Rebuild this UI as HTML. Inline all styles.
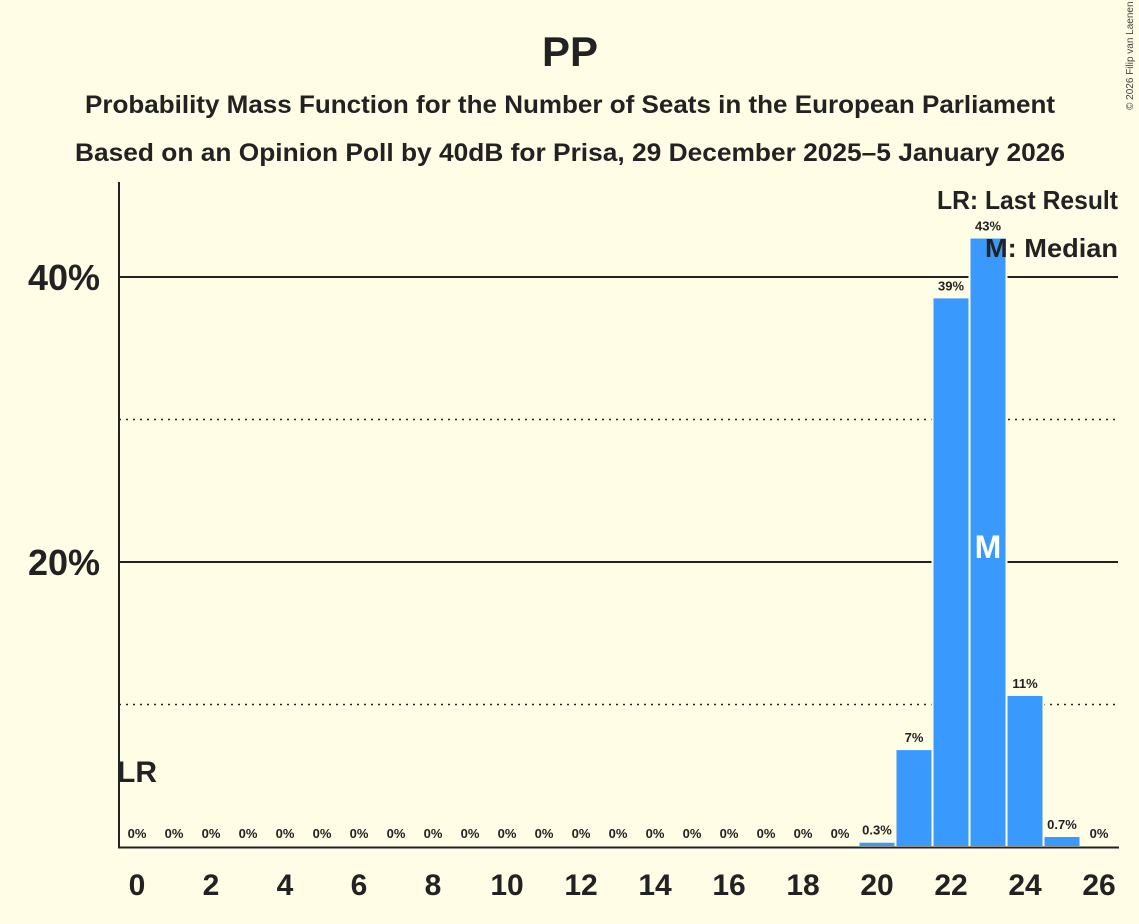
<!DOCTYPE html>
<html><head><meta charset="utf-8"><style>
body{margin:0;background:#fffde6;}
svg{display:block;font-family:"Liberation Sans",sans-serif;}
</style></head><body>
<svg id="c" width="1139" height="924" viewBox="0 0 1139 924">
<rect width="1139" height="924" fill="#fffde6"/>
<text x="570" y="66" text-anchor="middle" font-size="42" font-weight="bold" fill="#222">PP</text>
<text x="570" y="113" text-anchor="middle" font-size="25" font-weight="bold" fill="#222" textLength="970" lengthAdjust="spacingAndGlyphs">Probability Mass Function for the Number of Seats in the European Parliament</text>
<text x="570" y="161" text-anchor="middle" font-size="25" font-weight="bold" fill="#222" textLength="990" lengthAdjust="spacingAndGlyphs">Based on an Opinion Poll by 40dB for Prisa, 29 December 2025–5 January 2026</text>
<text x="1133" y="110" font-size="10" fill="#444" transform="rotate(-90 1133 110)">© 2026 Filip van Laenen</text>
<g id="grid"></g>
<g id="bars"></g>
<g id="labels"></g>
<line x1="119" y1="182" x2="119" y2="848" stroke="#222" stroke-width="2"/>
<line x1="118" y1="847.5" x2="1119" y2="847.5" stroke="#222" stroke-width="2"/>
<text x="1118" y="209" text-anchor="end" font-size="26" font-weight="bold" fill="#222" textLength="181" lengthAdjust="spacingAndGlyphs">LR: Last Result</text>
<text x="1118" y="257" text-anchor="end" font-size="26" font-weight="bold" fill="#222" textLength="133" lengthAdjust="spacingAndGlyphs">M: Median</text>
<text x="117" y="782" font-size="30" font-weight="bold" fill="#222">LR</text>
</svg>
<script>
const seats=[0,1,2,3,4,5,6,7,8,9,10,11,12,13,14,15,16,17,18,19,20,21,22,23,24,25,26];
const probs=[0,0,0,0,0,0,0,0,0,0,0,0,0,0,0,0,0,0,0,0,0.3,6.8,38.5,42.7,10.6,0.7,0];
const valueLabels=["0%","0%","0%","0%","0%","0%","0%","0%","0%","0%","0%","0%","0%","0%","0%","0%","0%","0%","0%","0%","0.3%","7%","39%","43%","11%","0.7%","0%"];
const yTicks=[10,20,30,40];
const yTickLabels=["","20%","","40%"];
const xTickSeats=[0,2,4,6,8,10,12,14,16,18,20,22,24,26];
const medianSeat=23;
const NS="http://www.w3.org/2000/svg";
const xs=s=>137+s*37;
const ys=v=>847-v*14.25;
function mk(t,a,p){const e=document.createElementNS(NS,t);for(const k in a)e.setAttribute(k,a[k]);p.appendChild(e);return e;}
const g=document.getElementById('grid'),b=document.getElementById('bars'),l=document.getElementById('labels');
yTicks.forEach((v,i)=>{
  const major=v%20===0;
  const ln=mk('line',{x1:119,x2:1118,y1:ys(v),y2:ys(v),stroke:'#222','stroke-width':major?2:1.5,'stroke-dasharray':major?'':'2,5'},g);
  
  
  if(yTickLabels[i]){
    const t=mk('text',{x:100,y:ys(v)+13,'text-anchor':'end','font-size':36,'font-weight':'bold',fill:'#222'},l);
    t.textContent=yTickLabels[i];
    
    
  }
});
seats.forEach((s,i)=>{
  const v=probs[i];
  if(v>0){
    const r=mk('rect',{x:xs(s)-18.5,y:ys(v)-1,width:37,height:847-ys(v)+1,fill:'#3a99fd',stroke:'#fffde6','stroke-width':2},b);
    
    
  }
  const t=mk('text',{x:xs(s),y:v>0?ys(v)-8:838,'text-anchor':'middle','font-size':13,'font-weight':'bold',fill:'#222'},l);
  t.textContent=valueLabels[i];
  
  
});
xTickSeats.forEach(s=>{
  const t=mk('text',{x:xs(s),y:895,'text-anchor':'middle','font-size':30,'font-weight':'bold',fill:'#222'},l);
  t.textContent=s;
  
  
});
const m=mk('text',{x:xs(medianSeat),y:558,'text-anchor':'middle','font-size':32,'font-weight':'bold',fill:'#fff'},l);
m.textContent='M';


</script>
</body></html>
